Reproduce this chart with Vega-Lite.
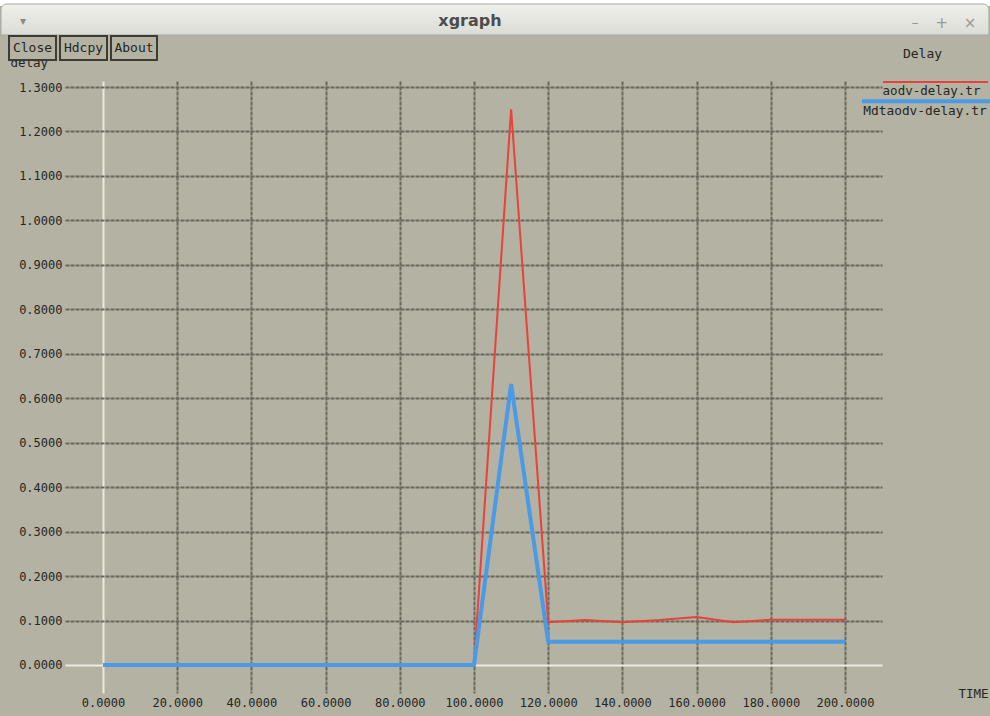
{
  "$schema": "https://vega.github.io/schema/vega-lite/v6.json",
  "width": 817,
  "height": 612,
  "autosize": "none",
  "padding": {"left": 65, "top": 81, "right": 108, "bottom": 23},
  "background": "#b3b2a3",
  "config": {
    "view": {"stroke": null},
    "axis": {
      "labelFont": "DejaVu Sans Mono",
      "labelFontSize": 12,
      "labelColor": "#26261f",
      "titleFont": "DejaVu Sans Mono",
      "titleFontSize": 12.5,
      "titleFontWeight": "normal",
      "titleColor": "#26261f",
      "ticks": false,
      "domain": false,
      "grid": true,
      "gridWidth": 2,
      "gridColor": {"condition": {"test": "datum.value === 0", "value": "#e9e9e1"}, "value": "#6a685d"},
      "gridDash": {"condition": {"test": "datum.value === 0", "value": []}, "value": [4, 1]}
    }
  },
  "datasets": {
    "delay": [
      {"series": "aodv-delay.tr", "time": 0, "delay": 0},
      {"series": "aodv-delay.tr", "time": 10, "delay": 0},
      {"series": "aodv-delay.tr", "time": 20, "delay": 0},
      {"series": "aodv-delay.tr", "time": 30, "delay": 0},
      {"series": "aodv-delay.tr", "time": 40, "delay": 0},
      {"series": "aodv-delay.tr", "time": 50, "delay": 0},
      {"series": "aodv-delay.tr", "time": 60, "delay": 0},
      {"series": "aodv-delay.tr", "time": 70, "delay": 0},
      {"series": "aodv-delay.tr", "time": 80, "delay": 0},
      {"series": "aodv-delay.tr", "time": 90, "delay": 0},
      {"series": "aodv-delay.tr", "time": 100, "delay": 0},
      {"series": "aodv-delay.tr", "time": 110, "delay": 1.25},
      {"series": "aodv-delay.tr", "time": 120, "delay": 0.096},
      {"series": "aodv-delay.tr", "time": 130, "delay": 0.101},
      {"series": "aodv-delay.tr", "time": 140, "delay": 0.096},
      {"series": "aodv-delay.tr", "time": 150, "delay": 0.101},
      {"series": "aodv-delay.tr", "time": 160, "delay": 0.108},
      {"series": "aodv-delay.tr", "time": 170, "delay": 0.096},
      {"series": "aodv-delay.tr", "time": 180, "delay": 0.102},
      {"series": "aodv-delay.tr", "time": 190, "delay": 0.102},
      {"series": "aodv-delay.tr", "time": 200, "delay": 0.102},
      {"series": "Mdtaodv-delay.tr", "time": 0, "delay": 0},
      {"series": "Mdtaodv-delay.tr", "time": 10, "delay": 0},
      {"series": "Mdtaodv-delay.tr", "time": 20, "delay": 0},
      {"series": "Mdtaodv-delay.tr", "time": 30, "delay": 0},
      {"series": "Mdtaodv-delay.tr", "time": 40, "delay": 0},
      {"series": "Mdtaodv-delay.tr", "time": 50, "delay": 0},
      {"series": "Mdtaodv-delay.tr", "time": 60, "delay": 0},
      {"series": "Mdtaodv-delay.tr", "time": 70, "delay": 0},
      {"series": "Mdtaodv-delay.tr", "time": 80, "delay": 0},
      {"series": "Mdtaodv-delay.tr", "time": 90, "delay": 0},
      {"series": "Mdtaodv-delay.tr", "time": 100, "delay": 0},
      {"series": "Mdtaodv-delay.tr", "time": 110, "delay": 0.632},
      {"series": "Mdtaodv-delay.tr", "time": 120, "delay": 0.052},
      {"series": "Mdtaodv-delay.tr", "time": 130, "delay": 0.052},
      {"series": "Mdtaodv-delay.tr", "time": 140, "delay": 0.052},
      {"series": "Mdtaodv-delay.tr", "time": 150, "delay": 0.052},
      {"series": "Mdtaodv-delay.tr", "time": 160, "delay": 0.052},
      {"series": "Mdtaodv-delay.tr", "time": 170, "delay": 0.052},
      {"series": "Mdtaodv-delay.tr", "time": 180, "delay": 0.052},
      {"series": "Mdtaodv-delay.tr", "time": 190, "delay": 0.052},
      {"series": "Mdtaodv-delay.tr", "time": 200, "delay": 0.052}
    ],
    "one": [{}]
  },
  "layer": [
    {
      "data": {"name": "delay"},
      "transform": [{"filter": "datum.series === 'aodv-delay.tr'"}],
      "mark": {"type": "line", "color": "#e8423c", "strokeWidth": 2},
      "encoding": {
        "x": {
          "field": "time", "type": "quantitative", "title": "TIME",
          "scale": {"domain": [-10.243, 209.973], "nice": false, "zero": false},
          "axis": {
            "values": [0, 20, 40, 60, 80, 100, 120, 140, 160, 180, 200],
            "format": ".4f", "labelPadding": 4,
            "titleX": 923, "titleY": 0, "titleAlign": "right", "titleBaseline": "middle"
          }
        },
        "y": {
          "field": "delay", "type": "quantitative", "title": "delay",
          "scale": {"domain": [-0.063, 1.3135], "nice": false, "zero": false},
          "axis": {
            "values": [0, 0.1, 0.2, 0.3, 0.4, 0.5, 0.6, 0.7, 0.8, 0.9, 1.0, 1.1, 1.2, 1.3],
            "format": ".4f", "labelPadding": 3,
            "titleAngle": 0, "titleX": -55, "titleY": -19, "titleAlign": "left", "titleBaseline": "middle"
          }
        }
      }
    },
    {
      "data": {"name": "delay"},
      "transform": [{"filter": "datum.series === 'Mdtaodv-delay.tr'"}],
      "mark": {"type": "line", "color": "#4a9ae6", "strokeWidth": 4},
      "encoding": {
        "x": {"field": "time", "type": "quantitative"},
        "y": {"field": "delay", "type": "quantitative"}
      }
    },
    {
      "data": {"name": "one"},
      "mark": {"type": "rect", "fill": "#ffffff"},
      "encoding": {"x": {"datum": -27.763}, "x2": {"datum": 239.084}, "y": {"datum": 1.4957}, "y2": {"datum": 1.4822}}
    },
    {
      "data": {"name": "one"},
      "mark": {"type": "rect", "cornerRadiusTopLeft": 6, "cornerRadiusTopRight": 6, "stroke": "#a9a9a2", "strokeWidth": 1,
        "fill": {"gradient": "linear", "x1": 0, "y1": 0, "x2": 0, "y2": 1, "stops": [{"offset": 0, "color": "#f0f0ec"}, {"offset": 1, "color": "#dcdcd6"}]}},
      "encoding": {"x": {"datum": -27.5}, "x2": {"datum": 238.8}, "y": {"datum": 1.4867}, "y2": {"datum": 1.4170}}
    },
    {
      "data": {"name": "one"},
      "mark": {"type": "text", "text": "xgraph", "font": "DejaVu Sans", "fontSize": 16, "fontWeight": "bold", "color": "#4d4d4b", "align": "center", "baseline": "middle"},
      "encoding": {"x": {"datum": 98.92}, "y": {"datum": 1.4485}}
    },
    {
      "data": {"name": "one"},
      "mark": {"type": "text", "text": "▾", "font": "DejaVu Sans", "fontSize": 12, "color": "#8a8a86", "align": "center", "baseline": "middle"},
      "encoding": {"x": {"datum": -21.56}, "y": {"datum": 1.4485}}
    },
    {
      "data": {"name": "one"},
      "mark": {"type": "text", "text": "–", "font": "DejaVu Sans", "fontSize": 14, "color": "#9a9a96", "align": "center", "baseline": "middle"},
      "encoding": {"x": {"datum": 218.87}, "y": {"datum": 1.4450}}
    },
    {
      "data": {"name": "one"},
      "mark": {"type": "text", "text": "+", "font": "DejaVu Sans", "fontSize": 15, "color": "#9a9a96", "align": "center", "baseline": "middle"},
      "encoding": {"x": {"datum": 226.08}, "y": {"datum": 1.4450}}
    },
    {
      "data": {"name": "one"},
      "mark": {"type": "text", "text": "×", "font": "DejaVu Sans", "fontSize": 15, "color": "#9a9a96", "align": "center", "baseline": "middle"},
      "encoding": {"x": {"datum": 233.69}, "y": {"datum": 1.4450}}
    },
    {
      "data": {"name": "one"},
      "mark": {"type": "rect", "fill": "#b3b2a3", "stroke": "#3c3c34", "strokeWidth": 2},
      "encoding": {"x": {"datum": -25.337}, "x2": {"datum": -12.668}, "y": {"datum": 1.41475}, "y2": {"datum": 1.36077}}
    },
    {
      "data": {"name": "one"},
      "mark": {"type": "rect", "fill": "#b3b2a3", "stroke": "#3c3c34", "strokeWidth": 2},
      "encoding": {"x": {"datum": -11.59}, "x2": {"datum": 1.078}, "y": {"datum": 1.41475}, "y2": {"datum": 1.36077}}
    },
    {
      "data": {"name": "one"},
      "mark": {"type": "rect", "fill": "#b3b2a3", "stroke": "#3c3c34", "strokeWidth": 2},
      "encoding": {"x": {"datum": 2.156}, "x2": {"datum": 14.555}, "y": {"datum": 1.41475}, "y2": {"datum": 1.36077}}
    },
    {
      "data": {"name": "one"},
      "mark": {"type": "text", "text": "Close", "font": "DejaVu Sans Mono", "fontSize": 13, "color": "#26261f", "align": "center", "baseline": "middle"},
      "encoding": {"x": {"datum": -19.003}, "y": {"datum": 1.38776}}
    },
    {
      "data": {"name": "one"},
      "mark": {"type": "text", "text": "Hdcpy", "font": "DejaVu Sans Mono", "fontSize": 13, "color": "#26261f", "align": "center", "baseline": "middle"},
      "encoding": {"x": {"datum": -5.256}, "y": {"datum": 1.38776}}
    },
    {
      "data": {"name": "one"},
      "mark": {"type": "text", "text": "About", "font": "DejaVu Sans Mono", "fontSize": 13, "color": "#26261f", "align": "center", "baseline": "middle"},
      "encoding": {"x": {"datum": 8.356}, "y": {"datum": 1.38776}}
    },
    {
      "data": {"name": "one"},
      "mark": {"type": "text", "text": "Delay", "font": "DejaVu Sans Mono", "fontSize": 13, "color": "#26261f", "align": "center", "baseline": "middle"},
      "encoding": {"x": {"datum": 220.89}, "y": {"datum": 1.37359}}
    },
    {
      "data": {"name": "one"},
      "mark": {"type": "rule", "color": "#e8423c", "strokeWidth": 2},
      "encoding": {"x": {"datum": 210.243}, "x2": {"datum": 238.544}, "y": {"datum": 1.31129}}
    },
    {
      "data": {"name": "one"},
      "mark": {"type": "text", "text": "aodv-delay.tr", "font": "DejaVu Sans Mono", "fontSize": 12.5, "color": "#26261f", "align": "center", "baseline": "middle"},
      "encoding": {"x": {"datum": 223.315}, "y": {"datum": 1.28993}}
    },
    {
      "data": {"name": "one"},
      "mark": {"type": "rule", "color": "#4a9ae6", "strokeWidth": 4},
      "encoding": {"x": {"datum": 204.582}, "x2": {"datum": 239.084}, "y": {"datum": 1.26788}}
    },
    {
      "data": {"name": "one"},
      "mark": {"type": "text", "text": "Mdtaodv-delay.tr", "font": "DejaVu Sans Mono", "fontSize": 12.8, "color": "#26261f", "align": "center", "baseline": "middle"},
      "encoding": {"x": {"datum": 221.563}, "y": {"datum": 1.24494}}
    }
  ]
}
